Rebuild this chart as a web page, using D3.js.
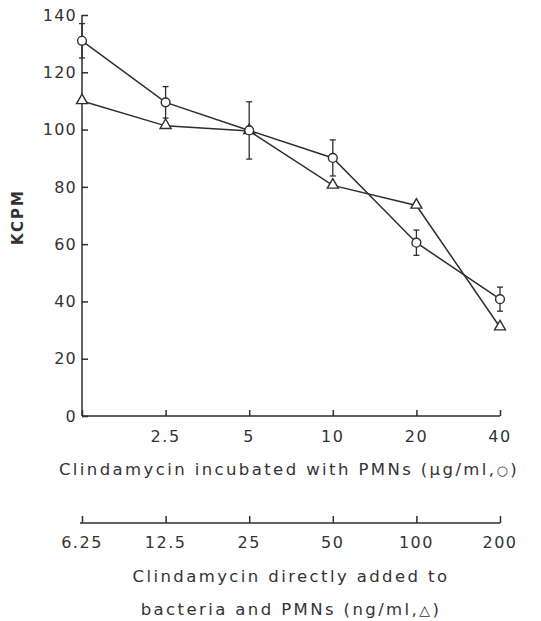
<!DOCTYPE html>
<html>
<head>
<meta charset="utf-8">
<script src="https://cdn.jsdelivr.net/npm/d3@7"></script>
<style>
  html, body { margin: 0; padding: 0; background: #fff; }
  svg { display: block; }
  text { font-family: "DejaVu Sans", sans-serif; fill: #333; }
</style>
</head>
<body>
<svg id="chart" width="541" height="621"></svg>
<script>
// Dose steps shared by both concentration axes (six twofold dilutions)
const doseSteps = [0, 1, 2, 3, 4, 5];
const pmnTickLabels = ["", "2.5", "5", "10", "20", "40"];          // µg/ml, incubated with PMNs
const directTickLabels = ["6.25", "12.5", "25", "50", "100", "200"]; // ng/ml, added directly
const yTicks = [0, 20, 40, 60, 80, 100, 120, 140];

// KCPM, clindamycin incubated with PMNs (circles) with error bar half-widths
const pmnKcpm = [131, 109.5, 99.7, 90.1, 60.5, 40.8];
const pmnErr = [6, 5.5, 10, 6.3, 4.4, 4.2];
// KCPM, clindamycin added directly to bacteria and PMNs (triangles)
const directKcpm = [110, 101.3, 99.5, 80.5, 73.5, 31];

const svg = d3.select("#chart");
const ink = "#2e2e2e";
const titleSize = 16.5, titleSpacing = 2.4;

const x = d3.scalePoint().domain(doseSteps).range([82, 500]);
const y = d3.scaleLinear().domain([0, 140]).range([416, 15]);

// Y axis
const yAxis = svg.append("g").attr("transform", "translate(82,0)")
  .call(d3.axisRight(y).tickValues(yTicks).tickSize(6).tickFormat(""));
yAxis.select(".domain").attr("d", `M0,${y(140)}V${y(0)}`);
yAxis.selectAll("line,path").attr("stroke", ink).attr("stroke-width", 1.5);
svg.append("g").selectAll("text").data(yTicks).join("text")
  .attr("x", 77).attr("y", d => y(d)).attr("dy", "0.36em")
  .attr("text-anchor", "end").attr("font-size", 16).attr("letter-spacing", 1.2)
  .text(d => d);

// Upper X axis (µg/ml)
const xAxisTop = svg.append("g").attr("transform", `translate(0,${y(0)})`)
  .call(d3.axisTop(x).tickSize(6).tickSizeOuter(0).tickFormat(""));
xAxisTop.select(".domain").attr("d", `M${x(0)},0H${x(5)}`);
xAxisTop.selectAll("line,path").attr("stroke", ink).attr("stroke-width", 1.5);
svg.append("g").selectAll("text").data(doseSteps).join("text")
  .attr("x", d => x(d)).attr("y", 442).attr("text-anchor", "middle")
  .attr("font-size", 16).attr("letter-spacing", 1.5)
  .text(d => pmnTickLabels[d]);
const t1 = svg.append("text").attr("x", 289).attr("y", 475).attr("text-anchor", "middle")
  .attr("font-size", titleSize).attr("letter-spacing", titleSpacing);
t1.append("tspan").text("Clindamycin incubated with PMNs (μg/ml,");
t1.append("tspan").attr("font-size", 13).text("○");
t1.append("tspan").text(")");

// Lower X axis (ng/ml)
const xAxisBottom = svg.append("g").attr("transform", "translate(0,523)")
  .call(d3.axisTop(x).tickSize(7).tickSizeOuter(0).tickFormat(""));
xAxisBottom.select(".domain").attr("d", `M${x(0) - 2},0H${x(5)}`);
xAxisBottom.selectAll("line,path").attr("stroke", ink).attr("stroke-width", 1.5);
svg.append("g").selectAll("text").data(doseSteps).join("text")
  .attr("x", d => x(d)).attr("y", 548).attr("text-anchor", "middle")
  .attr("font-size", 16).attr("letter-spacing", 1.5)
  .text(d => directTickLabels[d]);
svg.append("text").attr("x", 291).attr("y", 582).attr("text-anchor", "middle")
  .attr("font-size", titleSize).attr("letter-spacing", titleSpacing)
  .text("Clindamycin directly added to");
const t2 = svg.append("text").attr("x", 291).attr("y", 615).attr("text-anchor", "middle")
  .attr("font-size", titleSize).attr("letter-spacing", titleSpacing);
t2.append("tspan").text("bacteria and PMNs (ng/ml,");
t2.append("tspan").attr("font-size", 14).text("△");
t2.append("tspan").text(")");

// Y axis title
svg.append("text").attr("transform", "translate(23,217) rotate(-90)")
  .attr("text-anchor", "middle").attr("font-size", 15).attr("font-weight", "bold")
  .attr("letter-spacing", 2).text("KCPM");

// Lines
const line = d3.line().x((d, i) => x(i)).y(d => y(d));
svg.append("path").datum(directKcpm).attr("d", line)
  .attr("fill", "none").attr("stroke", ink).attr("stroke-width", 1.5);
svg.append("path").datum(pmnKcpm).attr("d", line)
  .attr("fill", "none").attr("stroke", ink).attr("stroke-width", 1.5);

// Error bars for circles
const eb = svg.append("g").attr("stroke", ink).attr("stroke-width", 1.3);
pmnKcpm.forEach((v, i) => {
  const cx = x(i), top = y(v + pmnErr[i]), bot = y(v - pmnErr[i]);
  eb.append("line").attr("x1", cx).attr("x2", cx).attr("y1", top).attr("y2", bot);
  eb.append("line").attr("x1", cx - 3).attr("x2", cx + 3).attr("y1", top).attr("y2", top);
  eb.append("line").attr("x1", cx - 3).attr("x2", cx + 3).attr("y1", bot).attr("y2", bot);
});

// Triangle markers
const tri = d3.symbol().type(d3.symbolTriangle).size(52);
svg.append("g").selectAll("path").data(directKcpm).join("path")
  .attr("transform", (d, i) => `translate(${x(i)},${y(d) - 0.5})`)
  .attr("d", tri).attr("fill", "#fff").attr("stroke", ink).attr("stroke-width", 1.4);

// Circle markers
svg.append("g").selectAll("circle").data(pmnKcpm).join("circle")
  .attr("cx", (d, i) => x(i)).attr("cy", d => y(d)).attr("r", 4.4)
  .attr("fill", "#fff").attr("stroke", ink).attr("stroke-width", 1.4);
</script>
</body>
</html>
